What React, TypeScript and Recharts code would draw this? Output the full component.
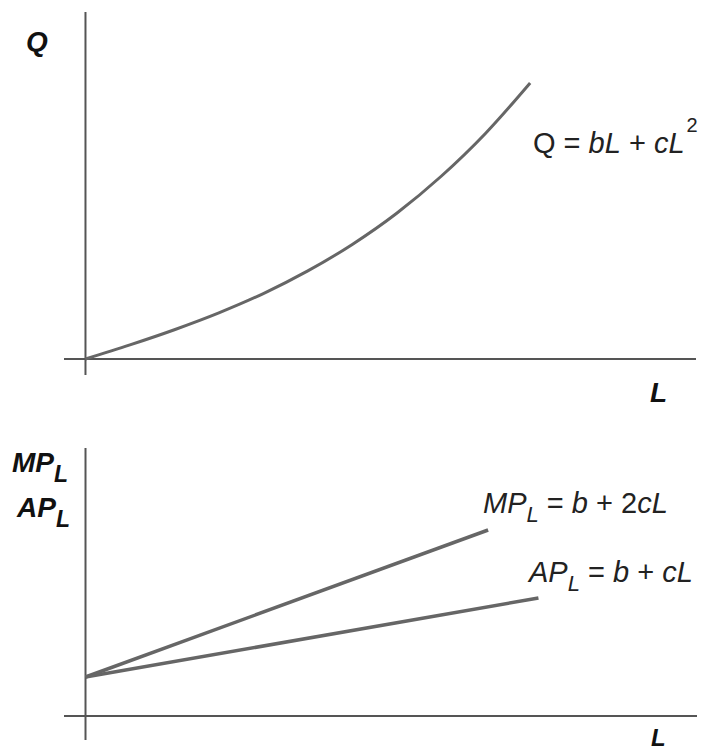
import { Line, LineChart, ReferenceLine, XAxis, YAxis } from "recharts";

// production curve Q(L)
const labour = [0, 1, 2, 3, 4, 5, 6, 7, 8, 9, 10];
const output = [0, 0.51, 1.06, 1.67, 2.37, 3.19, 4.15, 5.28, 6.62, 8.18, 10];

// marginal and average product lines, lower panel
const mpLabour = [0, 9.04];
const mpValues = [1.95, 9.3];
const apLabour = [0, 10.17];
const apValues = [1.95, 5.9];

const qData = labour.map((L, i) => ({ L, v: output[i] }));
const mpData = mpLabour.map((L, i) => ({ L, v: mpValues[i] }));
const apData = apLabour.map((L, i) => ({ L, v: apValues[i] }));

const axisColor = "#555";
const curveColor = "#666";
const font = "'Liberation Sans', Arial, Helvetica, sans-serif";

export default function App() {
  return (
    <div style={{ position: "absolute", left: 0, top: 0, width: 702, height: 751, background: "#fff", overflow: "hidden" }}>
      <div style={{ position: "absolute", left: 0, top: 0 }}>
        <LineChart width={702} height={400} margin={{ top: 12, right: 6, bottom: 25, left: 64 }}>
          <XAxis dataKey="L" type="number" domain={[-0.483, 13.73]} hide />
          <YAxis type="number" domain={[-0.58, 12.57]} hide />
          <ReferenceLine x={0} stroke={axisColor} strokeWidth={2} />
          <ReferenceLine y={0} stroke={axisColor} strokeWidth={2} />
          <Line
            data={qData}
            dataKey="v"
            type="monotone"
            stroke={curveColor}
            strokeWidth={3}
            dot={false}
            isAnimationActive={false}
          />
        </LineChart>
      </div>
      <div style={{ position: "absolute", left: 0, top: 420 }}>
        <LineChart width={702} height={331} margin={{ top: 28, right: 5, bottom: 11, left: 64 }}>
          <XAxis dataKey="L" type="number" domain={[-0.483, 13.73]} hide />
          <YAxis type="number" domain={[-1.2, 13.4]} hide />
          <ReferenceLine x={0} stroke={axisColor} strokeWidth={2} />
          <ReferenceLine y={0} stroke={axisColor} strokeWidth={2} />
          <Line data={mpData} dataKey="v" type="linear" stroke={curveColor} strokeWidth={3.5} dot={false} isAnimationActive={false} />
          <Line data={apData} dataKey="v" type="linear" stroke={curveColor} strokeWidth={3.5} dot={false} isAnimationActive={false} />
        </LineChart>
      </div>
      <svg
        width={702}
        height={751}
        style={{ position: "absolute", left: 0, top: 0, pointerEvents: "none" }}
        fontFamily={font}
      >
        <g fill="#111" fontWeight="bold" fontStyle="italic">
          <text x={26} y={51} fontSize={28}>Q</text>
          <text x={650} y={402} fontSize={28}>L</text>
          <text x={651} y={746} fontSize={24}>L</text>
          <text x={12} y={472} fontSize={28}>
            MP<tspan fontSize={23} dy={10}>L</tspan>
          </text>
          <text x={17} y={517} fontSize={28}>
            AP<tspan fontSize={23} dy={10}>L</tspan>
          </text>
        </g>
        <g fill="#222" fontSize={29}>
          <text x={533} y={153}>
            Q = <tspan fontStyle="italic">bL</tspan> + <tspan fontStyle="italic">cL</tspan>
            <tspan fontSize={20} dx={2} dy={-21}>2</tspan>
          </text>
          <text x={483} y={513}>
            <tspan fontStyle="italic">MP</tspan>
            <tspan fontStyle="italic" fontSize={22} dy={9}>L</tspan>
            <tspan dy={-9}> = </tspan>
            <tspan fontStyle="italic">b</tspan> + 2<tspan fontStyle="italic">cL</tspan>
          </text>
          <text x={529} y={582}>
            <tspan fontStyle="italic">AP</tspan>
            <tspan fontStyle="italic" fontSize={22} dy={9}>L</tspan>
            <tspan dy={-9}> = </tspan>
            <tspan fontStyle="italic">b</tspan> + <tspan fontStyle="italic">cL</tspan>
          </text>
        </g>
      </svg>
    </div>
  );
}
